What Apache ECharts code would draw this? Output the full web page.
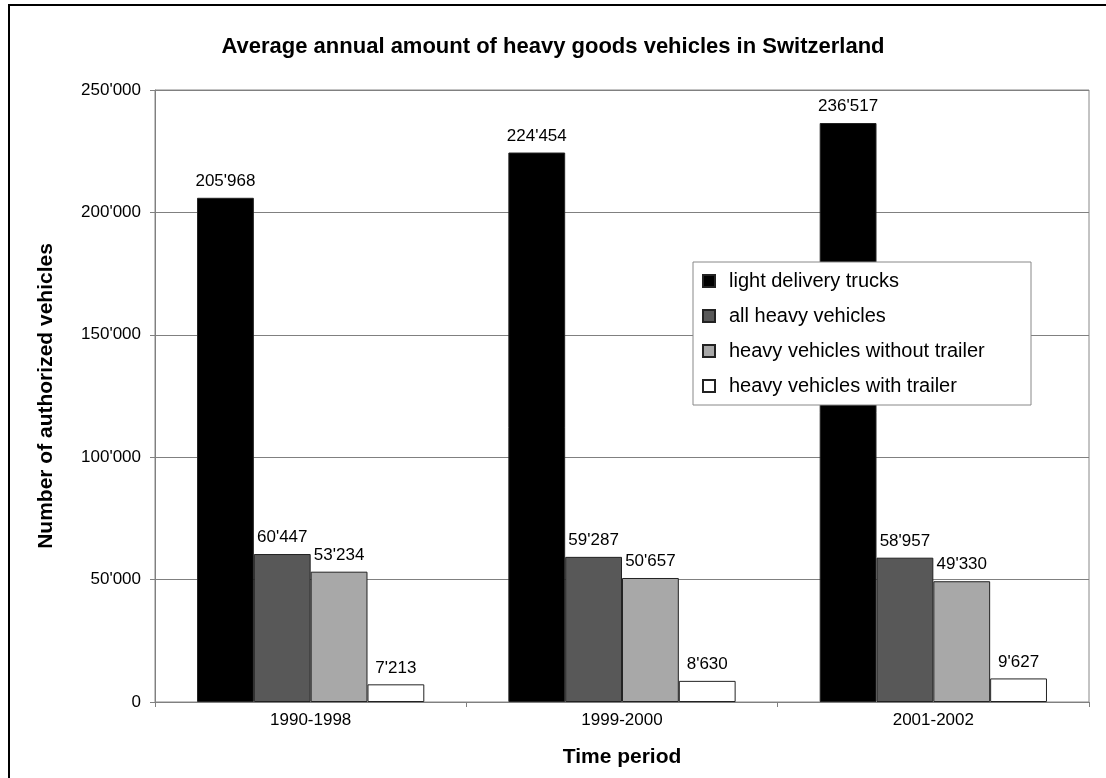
<!DOCTYPE html>
<html>
<head>
<meta charset="utf-8">
<script src="https://cdn.jsdelivr.net/npm/echarts@6/dist/echarts.min.js"></script>
<style>html,body{margin:0;padding:0;background:#fff}#c{width:1106px;height:778px}</style>
</head>
<body>
<div id="c"></div>
<script>
const categories = ['1990-1998', '1999-2000', '2001-2002'];
const seriesNames = ['light delivery trucks', 'all heavy vehicles', 'heavy vehicles without trailer', 'heavy vehicles with trailer'];
const lightDelivery = [205968, 224454, 236517];
const allHeavy = [60447, 59287, 58957];
const heavyWithout = [53234, 50657, 49330];
const heavyWith = [7213, 8630, 9627];
const seriesColors = ['#000000', '#585858', '#a8a8a8', '#ffffff'];

function fmt(v) {
  return String(Math.round(v)).replace(/\B(?=(\d{3})+(?!\d))/g, "'");
}
const FONT = '"Liberation Sans", Arial, sans-serif';
const allData = [lightDelivery, allHeavy, heavyWithout, heavyWith];

const chart = echarts.init(document.getElementById('c'), null, {renderer: 'canvas'});
chart.setOption({
  animation: false,
  backgroundColor: '#fff',
  textStyle: {fontFamily: FONT, color: '#000'},
  title: {
    text: 'Average annual amount of heavy goods vehicles in Switzerland',
    left: 'center', top: 31,
    textStyle: {fontFamily: FONT, fontSize: 22, fontWeight: 'bold', color: '#000'}
  },
  graphic: [{
    type: 'rect', z: 100, silent: true,
    shape: {x: 9, y: 5, width: 2000, height: 2000},
    style: {fill: 'none', stroke: '#000', lineWidth: 2}
  }],
  legend: {
    orient: 'vertical', left: 693, top: 262,
    backgroundColor: '#fff', borderColor: '#888', borderWidth: 1,
    padding: [8, 17, 8, 9],
    icon: 'rect',
    itemWidth: 12, itemHeight: 12, itemGap: 13,
    textStyle: {fontFamily: FONT, fontSize: 20, color: '#000', lineHeight: 22, width: 285, padding: [0, 0, 0, 9]},
    data: seriesNames
  },
  grid: {left: 155, right: 17, top: 90, bottom: 76, show: true, borderColor: '#888', borderWidth: 1},
  xAxis: {
    type: 'category', data: categories,
    name: 'Time period', nameLocation: 'middle', nameGap: 45,
    nameTextStyle: {fontFamily: FONT, fontSize: 21, fontWeight: 'bold', color: '#000'},
    axisLine: {lineStyle: {color: '#808080', width: 1}},
    axisTick: {show: true, length: 5, lineStyle: {color: '#808080'}},
    axisLabel: {fontFamily: FONT, fontSize: 17, color: '#000', margin: 10}
  },
  yAxis: {
    type: 'value', min: 0, max: 250000, interval: 50000,
    name: 'Number of authorized vehicles', nameLocation: 'middle', nameGap: 98,
    nameTextStyle: {fontFamily: FONT, fontSize: 21, fontWeight: 'bold', color: '#000'},
    axisLine: {show: true, lineStyle: {color: '#808080', width: 1}},
    axisTick: {show: true, length: 5, lineStyle: {color: '#808080'}},
    axisLabel: {fontFamily: FONT, fontSize: 17, color: '#000', margin: 14, formatter: fmt},
    splitLine: {lineStyle: {color: '#808080', width: 1}}
  },
  series: seriesNames.map((n, i) => ({
    name: n, type: 'bar', data: allData[i],
    barCategoryGap: '27%', barGap: '0%',
    itemStyle: {color: seriesColors[i], borderColor: '#222', borderWidth: 1},
    label: {show: true, position: 'top', distance: 8, fontFamily: FONT, fontSize: 17, color: '#000',
      formatter: p => fmt(p.value)}
  }))
});
</script>
</body>
</html>
